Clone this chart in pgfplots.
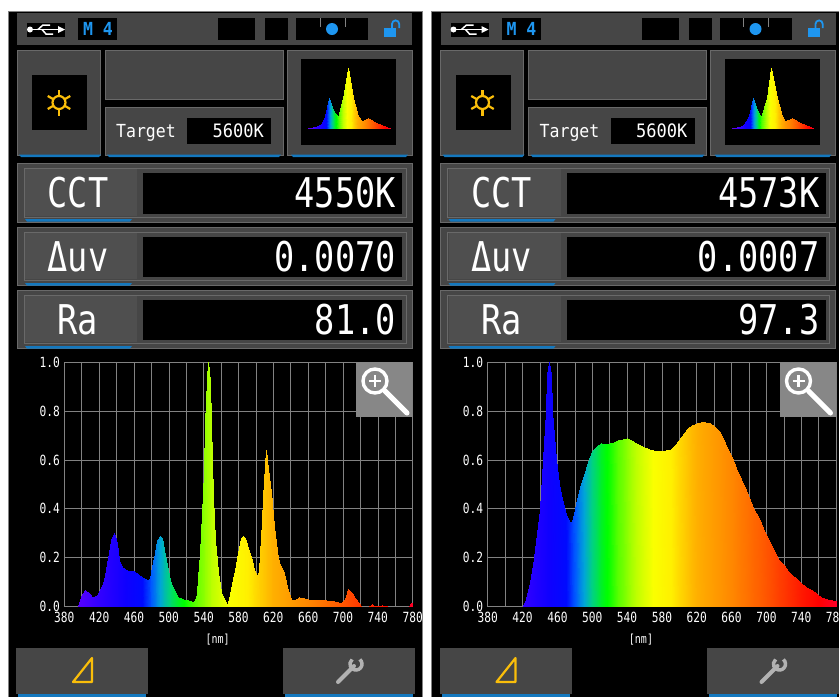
\documentclass[border=0pt]{standalone}
\usepackage{fontspec}
\usepackage{pgfplots}
\usepackage{pgfplotstable}
\pgfplotsset{compat=1.18}
\setmainfont{DejaVu Sans Mono}
\newfontfamily\dispf[FakeStretch=0.82]{DejaVu Sans Mono}
\newfontfamily\tickf[FakeStretch=0.8]{DejaVu Sans Mono}
\newfontfamily\tgtf[FakeStretch=0.92]{DejaVu Sans Mono}
\definecolor{pan}{RGB}{70,70,70}
\definecolor{panb}{RGB}{105,105,105}
\definecolor{ublue}{RGB}{20,120,190}
\definecolor{dblue}{RGB}{30,150,240}
\definecolor{amber}{RGB}{250,190,10}
\definecolor{gridc}{RGB}{130,130,130}
\definecolor{magc}{RGB}{135,135,135}

\pgfplotstableread[row sep=\\]{x y\\
380 0\\380 0\\396 0\\396 0\\400 0\\400 .05\\404 0\\404 .065\\408 0\\408 .055\\412 0\\412 .04\\418 0\\418 .045\\424 0\\424 .09\\427 0\\427 .13\\430 0\\430 .2\\434 0\\434 .27\\437 0\\437 .30\\440 0\\440 .26\\443 0\\443 .19\\446 0\\446 .16\\452 0\\452 .15\\460 0\\460 .145\\466 0\\466 .13\\472 0\\472 .115\\476 0\\476 .108\\478 0\\478 .115\\480 0\\480 .14\\482 0\\482 .18\\484 0\\484 .22\\487 0\\487 .27\\490 0\\490 .29\\492 0\\492 .28\\495 0\\495 .23\\497 0\\497 .19\\500 0\\500 .13\\503 0\\503 .09\\506 0\\506 .065\\510 0\\510 .04\\516 0\\516 .03\\522 0\\522 .025\\528 0\\528 .018\\530 0\\530 .025\\532 0\\532 .05\\534 0\\534 .12\\536 0\\536 .22\\538 0\\538 .38\\540 0\\540 .55\\542 0\\542 .75\\544 0\\544 .93\\545.5 0\\545.5 1\\547 0\\547 .92\\549 0\\549 .75\\551 0\\551 .45\\553 0\\553 .27\\556 0\\556 .14\\560 0\\560 .06\\564 0\\564 .02\\566.5 0\\566.5 .005\\568 0\\568 .015\\570 0\\570 .05\\574 0\\574 .11\\577 0\\577 .17\\580 0\\580 .22\\583 0\\583 .28\\585 0\\585 .29\\588 0\\588 .28\\591 0\\591 .24\\595 0\\595 .19\\598 0\\598 .15\\601 0\\601 .13\\603 0\\603 .14\\605 0\\605 .22\\606.5 0\\606.5 .35\\608 0\\608 .45\\610 0\\610 .58\\611.5 0\\611.5 .64\\613 0\\613 .6\\615 0\\615 .53\\617 0\\617 .47\\619 0\\619 .42\\621 0\\621 .33\\623 0\\623 .26\\625 0\\625 .2\\628 0\\628 .17\\632 0\\632 .135\\636 0\\636 .08\\640 0\\640 .03\\645 0\\645 .025\\650 0\\650 .04\\655 0\\655 .035\\660 0\\660 .03\\670 0\\670 .025\\680 0\\680 .025\\690 0\\690 .02\\698 0\\698 .015\\702 0\\702 .03\\706 0\\706 .07\\710 0\\710 .055\\714 0\\714 .035\\718 0\\718 .015\\721 0\\721 0\\730 0\\730 0\\733 0\\733 .01\\736 0\\736 0\\745 0\\745 .005\\750 0\\750 0\\776 0\\776 0\\778 0\\778 .015\\780 0\\780 .015\\
}\specA

\pgfplotstableread[row sep=\\]{x y\\
380 0\\380 0\\421 0\\421 0\\424 0\\424 .03\\428 0\\428 .1\\433 0\\433 .2\\437 0\\437 .3\\440 0\\440 .4\\443 0\\443 .6\\446.5 0\\446.5 .8\\448.5 0\\448.5 .95\\450.5 0\\450.5 1\\452.5 0\\452.5 .95\\454 0\\454 .8\\458.5 0\\458.5 .6\\461.5 0\\461.5 .5\\465 0\\465 .44\\470 0\\470 .38\\473 0\\473 .35\\475.5 0\\475.5 .345\\478 0\\478 .36\\481 0\\481 .42\\486 0\\486 .49\\490 0\\490 .54\\495 0\\495 .59\\500 0\\500 .635\\505 0\\505 .655\\510 0\\510 .668\\515 0\\515 .665\\520 0\\520 .67\\525 0\\525 .672\\530 0\\530 .68\\535 0\\535 .685\\540 0\\540 .688\\545 0\\545 .68\\550 0\\550 .668\\555 0\\555 .66\\560 0\\560 .652\\565 0\\565 .645\\570 0\\570 .642\\575 0\\575 .638\\580 0\\580 .636\\585 0\\585 .64\\590 0\\590 .645\\595 0\\595 .66\\600 0\\600 .68\\605 0\\605 .71\\610 0\\610 .73\\615 0\\615 .745\\620 0\\620 .75\\625 0\\625 .755\\630 0\\630 .755\\635 0\\635 .752\\640 0\\640 .74\\645 0\\645 .72\\650 0\\650 .69\\655 0\\655 .65\\660 0\\660 .61\\665 0\\665 .565\\671 0\\671 .52\\676 0\\676 .475\\681 0\\681 .435\\686 0\\686 .395\\691 0\\691 .36\\696 0\\696 .32\\701 0\\701 .285\\705 0\\705 .25\\710 0\\710 .217\\715 0\\715 .19\\720 0\\720 .17\\725 0\\725 .145\\729 0\\729 .13\\735 0\\735 .11\\740 0\\740 .095\\746 0\\746 .08\\752 0\\752 .065\\758 0\\758 .05\\763 0\\763 .04\\770 0\\770 .03\\780 0\\780 .02\\
}\specB

\pgfplotstableread[row sep=\\]{x y\\
380 0\\380 0\\424 0\\424 .03\\443 0\\443 .06\\463 0\\463 .2\\484 0\\484 .5\\502 0\\502 .3\\526 0\\526 .19\\551 0\\551 .5\\575 0\\575 1\\600 0\\600 .5\\624 0\\624 .2\\643 0\\643 .12\\673 0\\673 .17\\707 0\\707 .1\\741 0\\741 .05\\780 0\\780 0\\
}\specM

\pgfplotsset{
  colormap={wave}{
    rgb255(0pt)=(100,0,235); rgb255(20pt)=(80,0,255); rgb255(40pt)=(50,0,255);
    rgb255(70pt)=(15,0,255); rgb255(90pt)=(0,10,255); rgb255(100pt)=(0,90,255);
    rgb255(110pt)=(0,165,215); rgb255(120pt)=(0,210,130); rgb255(130pt)=(0,240,40);
    rgb255(137pt)=(0,255,0); rgb255(150pt)=(90,255,0); rgb255(170pt)=(190,255,0);
    rgb255(190pt)=(250,255,0); rgb255(210pt)=(255,240,0); rgb255(225pt)=(255,205,0);
    rgb255(240pt)=(255,175,0); rgb255(260pt)=(255,155,0); rgb255(280pt)=(255,135,0);
    rgb255(300pt)=(255,110,0); rgb255(320pt)=(255,85,0); rgb255(340pt)=(255,55,0);
    rgb255(360pt)=(255,25,0); rgb255(380pt)=(255,0,0); rgb255(400pt)=(255,0,40)
  },
}

\newcommand\blueline[3]{\fill[ublue] (#1,#3) -- (#2,#3) -- (#2-2,#3+2.5) -- (#1+2,#3+2.5) -- cycle;}
\newcommand\dispbox[7]{% y1 y2 (outer) y3 y4 (black) label value underline
  \fill[pan] (17,#1) rectangle (412,#2);
  \draw[panb,line width=.8pt] (17,#1) rectangle (412,#2);
  \draw[panb,line width=.8pt] (24,#1+5) rectangle (406,#2-5);
  \fill[pan!95!white] (25,#1+6) rectangle (137,#2-6);
  \fill[black] (143,#3) rectangle (402,#4);
  \node[white,font=\dispf\fontsize{41}{41}\selectfont] at (78,#3+20) {#5};
  \node[white,anchor=east,font=\dispf\fontsize{41}{41}\selectfont,inner sep=0pt] at (396,#3+20) {#6};
  \blueline{25}{132}{#7}
}

% one device screen: x shift, CCT, duv, Ra
\newcommand\chrome[4]{%
\begin{scope}[x=1pt,y=-1pt,xshift=#1pt]
  \fill[black] (8,11) rectangle (422,697);
  \draw[gridc,line width=.8pt] (8,11) -- (8,697) (8,11) -- (422,11) -- (422,697);
  % top bar
  \fill[pan] (17,13) rectangle (412,45);
  \fill[black] (27,23) rectangle (65,37);
  \draw[white,line width=1.8pt] (31,29.5) -- (60,29.5);
  \fill[white] (30,29.5) circle (3);
  \fill[white] (65,29.5) -- (58,26) -- (58,33) -- cycle;
  \draw[white,line width=1.5pt] (38,29.5) -- (43,25) -- (50,25) (42,29.5) -- (46,34) -- (53,34);
  \fill[black] (78,18) rectangle (117,40);
  \node[dblue,font=\tgtf\bfseries\fontsize{18}{18}\selectfont] at (98,29) {M 4};
  \fill[black] (218,18) rectangle (255,40);
  \fill[black] (265,18) rectangle (288,40);
  \fill[black] (296,18) rectangle (368,40);
  \draw[gridc,line width=.7pt] (320,18) -- (320,27) (345,18) -- (345,27);
  \fill[dblue] (332,29) circle (6);
  \fill[dblue] (384,28) rectangle (396,37);
  \draw[dblue,line width=1.8pt] (392,28) -- (392,24) arc (180:360:3.6) -- (399.2,28);
  % second row
  \fill[pan] (17,50) rectangle (100,155);
  \fill[pan] (105,50) rectangle (283,99);
  \fill[pan] (105,107) rectangle (283,155);
  \fill[pan] (287,50) rectangle (412,155);
  \draw[panb,line width=.7pt] (17,50) rectangle (100,155) (105,50) rectangle (283,99) (105,107) rectangle (283,155) (287,50) rectangle (412,155);
  \blueline{19}{101}{154.5}
  \blueline{107}{281}{154.5}
  \blueline{291}{408}{154.5}
  \fill[black] (32,75) rectangle (87,130);
  \draw[amber,line width=2.2pt] (59,102.5) circle (6.5);
  \foreach \a in {30,90,150,210,270,330}
    \draw[amber,line width=2.2pt] (59,102.5) ++(\a:6.5) -- ++(\a:6.5);
  \node[white,font=\tgtf\fontsize{18}{18}\selectfont] at (146,133) {Target};
  \fill[black] (187,118) rectangle (271,144);
  \node[white,anchor=east,inner sep=0pt,font=\tgtf\fontsize{18.5}{18.5}\selectfont] at (264,131) {5600K};
  \fill[black] (301,59) rectangle (396,145);
  % readings
  \dispbox{163}{222}{173}{214}{CCT}{#2}{219}
  \dispbox{227}{285}{237}{277}{Δuv}{#3}{283}
  \dispbox{290}{348}{300}{340}{Ra}{#4}{346}
  % buttons
  \fill[pan] (16,648) rectangle (148,694);
  \fill[pan] (283,648) rectangle (415,694);
  \fill[ublue] (18,694) rectangle (146,697);
  \fill[ublue] (285,694) rectangle (413,697);
  \draw[amber,line width=2.2pt,line join=round] (92,658) -- (92,682) -- (73,682) -- cycle;
  \draw[gray!60!white,line width=4pt,line cap=round] (338,682) -- (354,666);
  \draw[gray!60!white,line width=3.5pt] (356,664) ++(-50:6) arc (-50:230:6);
\end{scope}}

\newcommand\frontlayer[1]{%
\begin{scope}[x=1pt,y=-1pt,xshift=#1pt]
  \fill[magc] (356,362) rectangle (412,417);
  \draw[white,line width=3.4pt] (375,381) circle (12);
  \draw[white,line width=2.4pt] (369,381) -- (381,381) (375,375) -- (375,387);
  \draw[white,line width=5pt,line cap=round] (385,391) -- (407,413);
\end{scope}}

\pgfplotsset{
  spec/.style={
    scale only axis, width=348.4pt, height=244pt, anchor=south west,
    xmin=380, xmax=780, ymin=0, ymax=1,
    axis line style={gridc,line width=.9pt},
    tick style={draw=none},
    xtick={380,420,...,780},
    xticklabels={380,420,460,500,540,580,620,660,700,740,780},
    minor x tick num=1,
    ytick={0,.2,.4,.6,.8,1},
    yticklabels={0.0,0.2,0.4,0.6,0.8,1.0},
    grid=both,
    grid style={gridc,line width=.6pt},
    minor grid style={gridc,line width=.6pt},
    tick label style={text=white,font=\tickf\fontsize{14}{14}\selectfont},
    xticklabel style={yshift=-2.5pt},
    yticklabel style={xshift=-1pt},
    xlabel={[nm]},
    xlabel style={text=white,font=\tickf\fontsize{12.5}{12.5}\selectfont,at={(axis description cs:0.44,-0.135)},anchor=center},
    point meta min=380, point meta max=780,
  },
  mini/.style={scale only axis, width=82pt, height=60pt, anchor=south west,
    xmin=380, xmax=780, ymin=0, ymax=1, point meta min=380, point meta max=780,
    xtick=\empty, ytick=\empty, axis line style={draw=none}, tick style={draw=none}},
  rainbow/.style={surf, shader=interp, colormap name=wave, point meta=x, mesh/cols=2, mesh/check=false},
}

\begin{document}
\begin{tikzpicture}
\path[use as bounding box] (0,0) rectangle (839pt,-697pt);
\chrome{0}{4550K}{0.0070}{81.0}
\chrome{423.5}{4573K}{0.0007}{97.3}

\begin{axis}[spec, at={(64.3pt,-606.3pt)}]
\addplot[rainbow] table {\specA};
\end{axis}
\begin{axis}[spec, at={(487.7pt,-606.3pt)}]
\addplot[rainbow] table {\specB};
\end{axis}

\begin{axis}[mini, at={(308pt,-128pt)}]
\addplot[rainbow] table {\specM};
\end{axis}
\begin{axis}[mini, at={(731.5pt,-128pt)}]
\addplot[rainbow] table {\specM};
\end{axis}

\frontlayer{0}
\frontlayer{423.5}
\end{tikzpicture}
\end{document}
